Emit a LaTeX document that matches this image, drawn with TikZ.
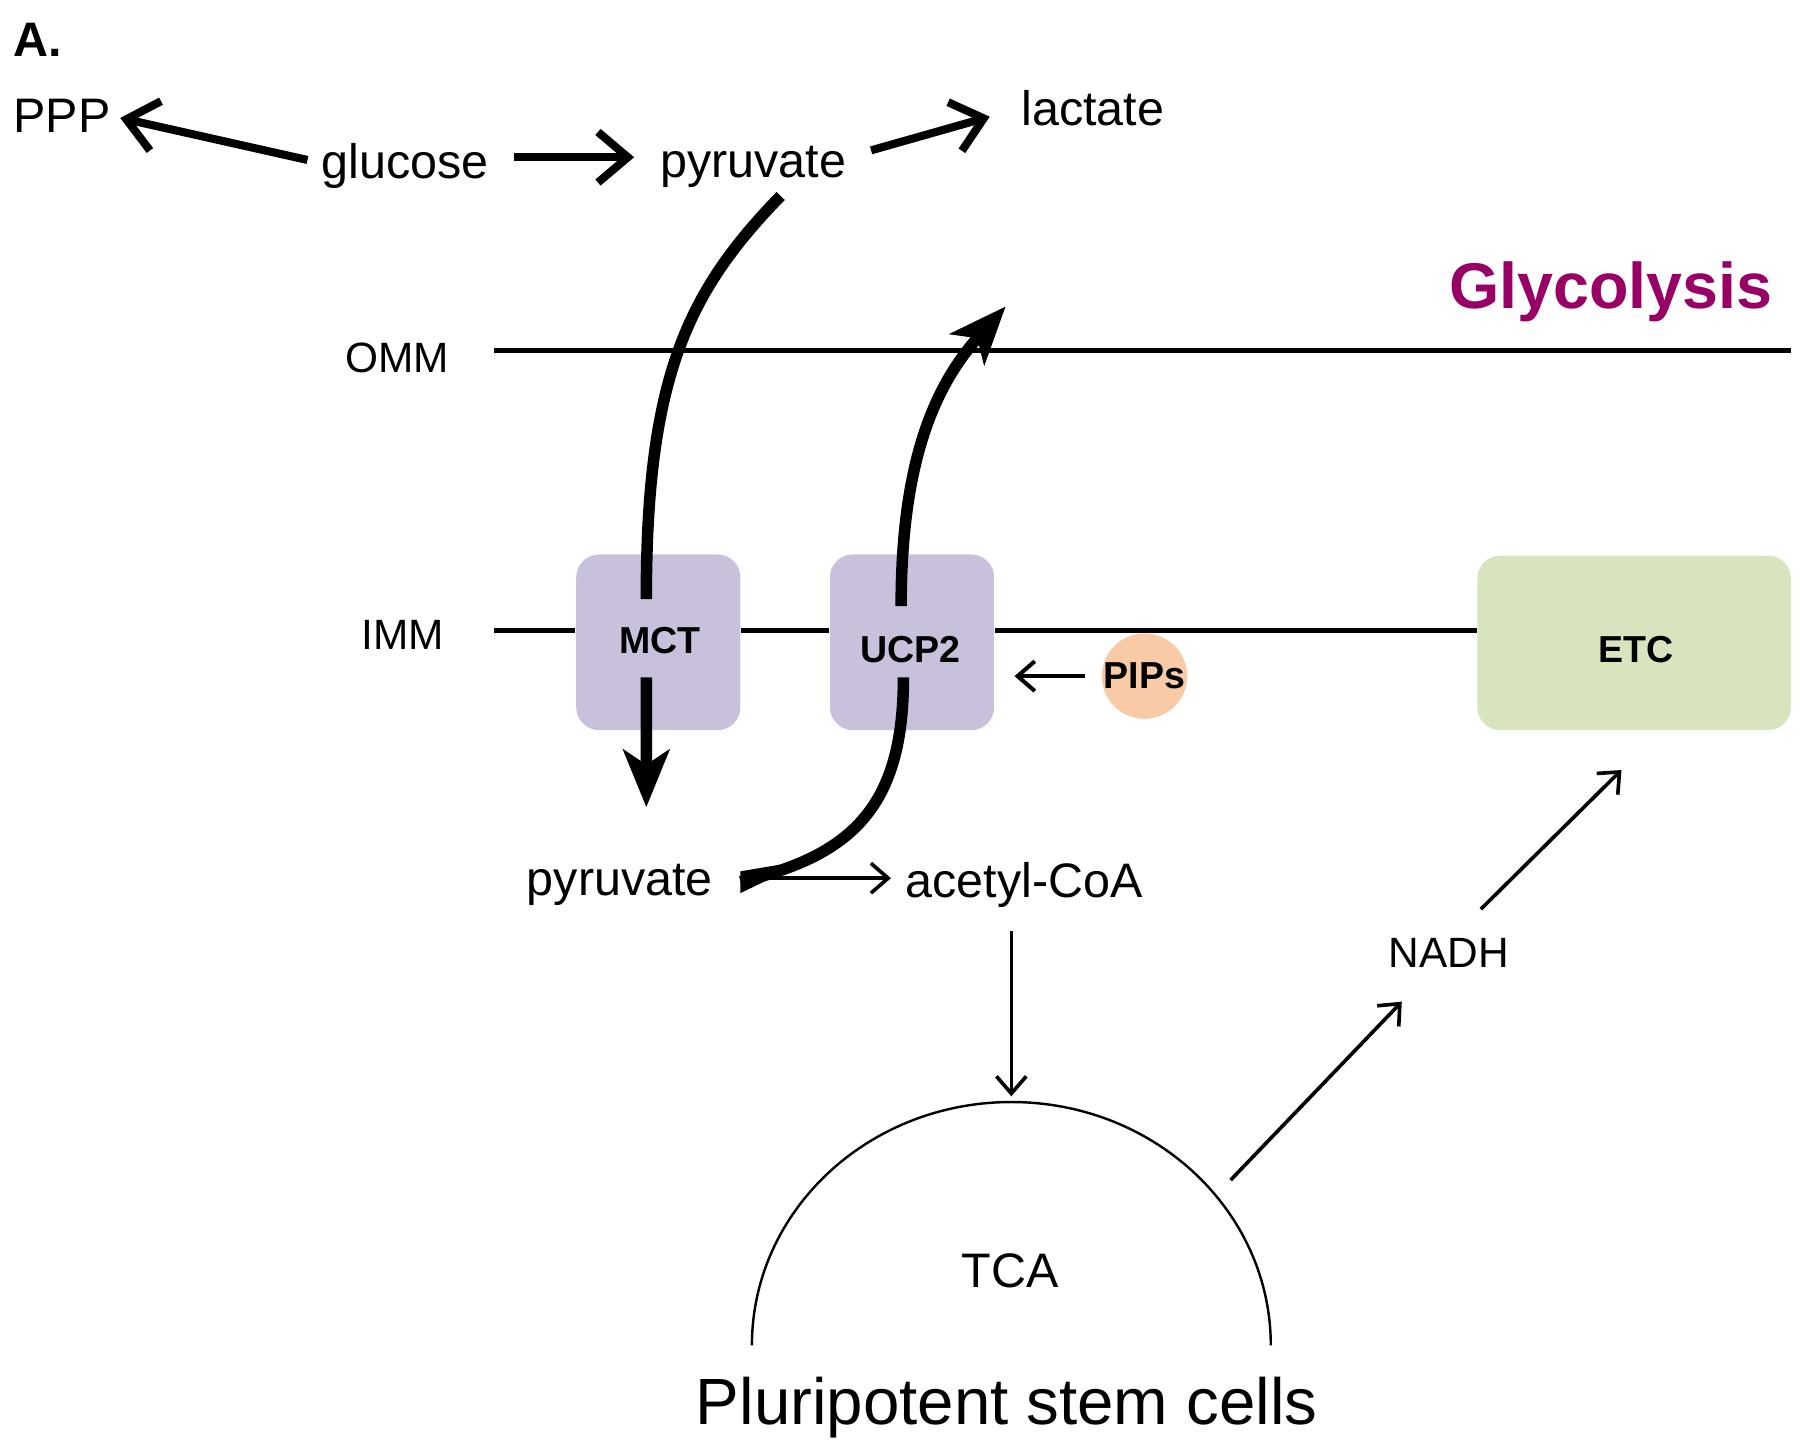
\documentclass[tikz,border=0pt]{standalone}
\usepackage{fontspec}
\setmainfont{Liberation Sans}
\usetikzlibrary{arrows.meta}
\definecolor{lav}{HTML}{C9C0DC}
\definecolor{lgreen}{HTML}{D7E4BD}
\definecolor{peach}{HTML}{F8CBA6}
\definecolor{glyc}{HTML}{990066}
\begin{document}
\begin{tikzpicture}[x=0.01cm,y=-0.01cm,
  lbl/.style={font=\fontsize{12}{14}\selectfont, inner sep=0pt},
  sm/.style={font=\fontsize{10.5}{12}\selectfont, inner sep=0pt},
  big/.style={font=\fontsize{16.2}{19}\selectfont, inner sep=0pt},
  carrier/.style={fill=lav, rounded corners=2mm, minimum width=1.43cm, minimum height=1.53cm, inner sep=0pt},
  boxlbl/.style={font=\bfseries\fontsize{9.3}{11}\selectfont, inner sep=0pt},
  memb/.style={line width=1.2pt},
  fat/.style={line width=2pt, -{Straight Barb[length=2.6mm,width=4.4mm]}},
  transport/.style={line width=2.85pt},
  transhead/.style={transport, -{Stealth[length=5mm,width=4mm,inset=1.3mm]}},
  thinarrow/.style={line width=0.9pt, -{Straight Barb[length=1.5mm,width=2.6mm]}}]
\useasboundingbox (0,0) rectangle (1568,1258);

% labels
\node[font=\bfseries\fontsize{12}{14}\selectfont, inner sep=0pt] (A) at (33,35) {A.};
\node[lbl] (ppp) at (54,101) {PPP};
\node[lbl] (glc) at (353,145) {glucose};
\node[lbl] (pyr1) at (656,145) {pyruvate};
\node[lbl] (lac) at (952,94) {lactate};
\node[font=\bfseries\fontsize{16}{19}\selectfont, text=glyc, inner sep=0pt] (gly) at (1403,254) {Glycolysis};
\node[sm] (omm) at (346,312) {OMM};
\node[sm] (imm) at (351,553) {IMM};
\node[lbl] (pyr2) at (540,771) {pyruvate};
\node[lbl] (acoa) at (892,771) {acetyl-CoA};
\node[lbl] (tca) at (880,1107) {TCA};
\node[sm] (nadh) at (1262,830) {NADH};
\node[big] (psc) at (877,1226) {Pluripotent stem cells};

% membranes
\coordinate (ommL) at (430,305);
\coordinate (ommR) at (1560,305);
\coordinate (immL) at (430,549);
\draw[memb] (ommL) -- (ommR);

% carriers
\node[carrier] (mct) at (573.5,559.5) {};
\node[carrier] (ucp) at (794.5,559.5) {};
\node[carrier, fill=lgreen, minimum width=2.73cm, minimum height=1.52cm] (etc) at (1423.5,560) {};
\draw[memb] (immL) -- (immL -| mct.west);
\draw[memb] (mct.east |- immL) -- (immL -| ucp.west);
\draw[memb] (ucp.east |- immL) -- (immL -| etc.west);
\node[boxlbl] (mctl) at (575,558) {MCT};
\node[boxlbl] (ucpl) at (793,566) {UCP2};
\node[boxlbl] (etcl) at (1425,566) {ETC};
\node[circle, fill=peach, minimum size=7.4mm, inner sep=0pt, font=\bfseries\fontsize{9.3}{11}\selectfont] (pips) at (997,589) {PIPs};

% top arrows
\draw[fat, shorten <=1.2mm, shorten >=0.8mm] ([yshift=0.3mm]glc.west) -- (ppp.east);
\draw[fat, shorten <=2.1mm, shorten >=2.2mm] ([yshift=0.8mm]glc.east) -- ([yshift=0.8mm]pyr1.west);
\draw[fat, shorten <=2.2mm, shorten >=2.8mm] ([yshift=0.8mm]pyr1.east) -- (lac.west);

% MCT transport
\coordinate (mctin) at (563,522);
\coordinate (mctout) at (563,590);
\draw[transport] ([xshift=2.4mm,yshift=-0.7mm]pyr1.south) .. controls (598,255) and (563,330) .. (mctin);
\draw[transhead] (mctout) -- ([xshift=2.3mm,yshift=4.9mm]pyr2.north);

% UCP2 transport
\coordinate (ucpin) at (787,590);
\coordinate (ucpout) at (785,528);
\coordinate (ucptip) at (876,267);
\coordinate (ucpstart) at (645,768);
\draw[transport] (ucpstart) .. controls (745,745) and (787,700) .. (ucpin);
\fill (ucpstart) ++(0,-9) -- (705,749) -- (645,778) -- cycle;
\draw[transhead] (ucpout) .. controls (785,400) and (815,335) .. (ucptip);

% thin arrows
\draw[thinarrow, shorten >=1.2mm] ([xshift=3.3mm,yshift=0.6mm]pyr2.east) -- ([yshift=0.6mm]acoa.west);
\draw[thinarrow, line width=1pt, shorten <=1.4mm, shorten >=1.7mm] (pips.west) -- (pips.west -| ucp.east);

% TCA
\coordinate (tcaL) at (655,1172);
\coordinate (tcatop) at (881,960);
\draw[line width=0.6pt] (tcaL) arc[start angle=180, end angle=360, x radius=226, y radius=212];
\draw[thinarrow, shorten <=2mm, shorten >=0.5mm] (tcatop |- acoa.south) -- (tcatop);

% NADH
\coordinate (tcaNE) at (1072,1028);
\draw[thinarrow, shorten >=5.9mm] (tcaNE) -- (nadh.center);
\draw[thinarrow] ([xshift=2.8mm,yshift=3.8mm]nadh.center) -- ([xshift=-1.1mm,yshift=-3.4mm]etc.south);
\end{tikzpicture}
\end{document}
